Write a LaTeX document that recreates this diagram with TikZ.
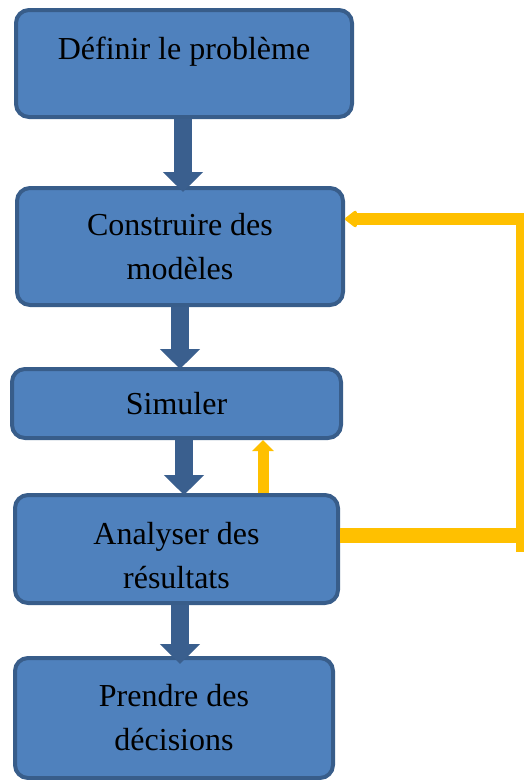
\documentclass[tikz,border=0pt]{standalone}
\usepackage{fontspec}
\setmainfont{Liberation Serif}
\usetikzlibrary{arrows.meta}
\definecolor{boxfill}{HTML}{4F81BD}
\definecolor{boxline}{HTML}{385D8A}
\definecolor{flowarrow}{HTML}{3A5F8E}
\definecolor{loopcol}{HTML}{FFC000}
\tikzset{
  stepbox/.style={draw=boxline, fill=boxfill, line width=4pt, rounded corners=13pt,
    align=center, inner sep=0pt, font=\fontsize{32}{44}\selectfont},
  flow/.style={draw=flowarrow, line width=18pt,
    -{Triangle[width=39pt,length=20pt]}},
  backup/.style={draw=loopcol, line width=11pt,
    -{Triangle[width=21pt,length=11pt]}},
  loopline/.style={draw=loopcol}
}
\begin{document}
\begin{tikzpicture}[x=1pt, y=-1pt]
\useasboundingbox (0,0) rectangle (524,780);

% process steps
\node[stepbox, minimum width=336pt, minimum height=107pt,
      text height=22pt, text depth=30pt] (b1) at (184,63.5) {Définir le problème};
\node[stepbox, minimum width=326pt, minimum height=117pt] (b2) at (180,246.5) {Construire des\\modèles};
\node[stepbox, minimum width=329pt, minimum height=69pt] (b3) at (176.5,403.5) {Simuler};
\node[stepbox, minimum width=323pt, minimum height=108pt] (b4) at (176.5,549)
  {\rule{0pt}{35pt}Analyser des\\résultats};
\node[stepbox, minimum width=318pt, minimum height=120pt] (b5) at (174,718) {Prendre des\\décisions};

% main flow
\draw[flow, shorten >=-6pt] (b1.south -| 183,0) -- (b2.north -| 183,0);
\draw[flow, shorten >=-2pt] (b2.south -| 180,0) -- (b3.north -| 180,0);
\draw[flow, shorten >=-2pt] (b3.south -| 184,0) -- (b4.north -| 184,0);
\draw[flow, shorten >=-8pt] (b4.south -| 180,0) -- (b5.north -| 180,0);

% feedback to the simulation
\draw[backup] (b4.north -| 263,0) -- (b3.south -| 263,0);

% feedback to the modelling step
\coordinate (rb) at (521,535.5);
\coordinate (rt) at (521,219);
\coordinate (rbend) at (521,552);
\coordinate (rtop) at (521,213);
\draw[loopline, line width=15pt] (b4.east |- rb) -- ([xshift=5pt]rb);
\draw[loopline, line width=10pt] (rbend) -- (rtop);
\draw[loopline, line width=12pt, -{Triangle[width=19pt,length=13pt,round]}]
  ([xshift=5pt]rt) -- (b2.east |- rt);
\end{tikzpicture}
\end{document}
